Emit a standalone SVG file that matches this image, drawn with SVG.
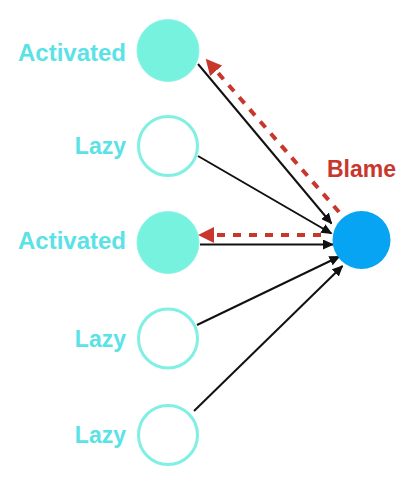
<svg xmlns="http://www.w3.org/2000/svg" width="411" height="479" viewBox="0 0 411 479">
<defs>
<style>
.lbl{font-family:"Liberation Sans",Arial,sans-serif;font-weight:bold;font-size:23px;fill:#5ae2e6;text-anchor:end}
.big{font-size:24px}
.blame{font-family:"Liberation Sans",Arial,sans-serif;font-weight:bold;font-size:23px;fill:#c9372c}
.act{fill:#76f2de;stroke:#8ef3e6;stroke-width:1}
.lazy{fill:#ffffff;stroke:#80f0e4;stroke-width:3}
.out{fill:#08a4f4}
.edge{stroke:#111;stroke-width:2;fill:none}
.blamed{stroke:#c9372c;stroke-width:4;stroke-dasharray:8 8;fill:none}
</style>
<marker id="ah" markerUnits="userSpaceOnUse" viewBox="0 0 11 10" markerWidth="11" markerHeight="10" refX="10" refY="5" orient="auto"><path d="M0,0 L11,5 L0,10 z" fill="#111"/></marker>
<marker id="rh" markerUnits="userSpaceOnUse" viewBox="0 0 16 16" markerWidth="16" markerHeight="16" refX="1" refY="8" orient="auto"><path d="M0,0 L16,8 L0,16 z" fill="#c9372c"/></marker>
</defs>
<g id="edges">
<line class="edge" x1="198" y1="64" x2="331.5" y2="223.5" marker-end="url(#ah)"/>
<line class="edge" x1="198" y1="156" x2="331.5" y2="233.5" marker-end="url(#ah)"/>
<line class="edge" x1="200" y1="244.5" x2="333" y2="244.5" marker-end="url(#ah)"/>
<line class="edge" x1="197" y1="325" x2="339.5" y2="256.5" marker-end="url(#ah)"/>
<line class="edge" x1="194" y1="411" x2="342.5" y2="266" marker-end="url(#ah)"/>
<line class="blamed" x1="339" y1="212" x2="215.5" y2="70" marker-end="url(#rh)"/>
<line class="blamed" x1="321" y1="235" x2="213" y2="235" marker-end="url(#rh)"/>
</g>
<g id="n1"><circle class="act" cx="168" cy="50.5" r="31"/><text class="lbl big" x="126" y="61">Activated</text></g>
<g id="n2"><circle class="lazy" cx="168" cy="146" r="29.5"/><text class="lbl" x="126" y="154">Lazy</text></g>
<g id="n3"><circle class="act" cx="168" cy="242.5" r="31"/><text class="lbl big" x="126" y="249">Activated</text></g>
<g id="n4"><circle class="lazy" cx="168" cy="338.5" r="29.5"/><text class="lbl" x="126" y="347">Lazy</text></g>
<g id="n5"><circle class="lazy" cx="168" cy="435" r="29.5"/><text class="lbl" x="126" y="443">Lazy</text></g>
<g id="out"><circle class="out" cx="361.5" cy="240" r="29"/><text class="blame" x="327" y="177">Blame</text></g>
</svg>
